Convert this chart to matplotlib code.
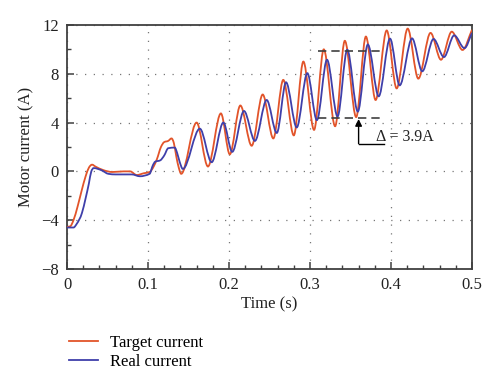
import matplotlib
matplotlib.use('Agg')
import matplotlib.pyplot as plt
import numpy as np
from matplotlib.path import Path
from matplotlib.patches import PathPatch
from matplotlib.lines import Line2D
from matplotlib.ticker import MultipleLocator, FuncFormatter

plt.rcParams['font.family'] = ['Liberation Serif', 'DejaVu Serif']

# ============================================================
# data (time in s, current in A)
# ============================================================
target_t = [0.000, 0.004, 0.008, 0.013, 0.018, 0.023, 0.027, 0.031, 0.035, 0.045,
            0.056, 0.070, 0.078, 0.086, 0.095, 0.102, 0.107, 0.111, 0.116, 0.120,
            0.125, 0.129, 0.132, 0.135, 0.138, 0.141, 0.160, 0.174, 0.190, 0.201,
            0.214, 0.228, 0.2416, 0.2547, 0.267, 0.280, 0.2918, 0.305, 0.317, 0.331,
            0.343, 0.357, 0.369, 0.381, 0.3947, 0.407, 0.4206, 0.4337, 0.4488, 0.4617,
            0.475, 0.4883, 0.500]
target_i = [-4.55, -4.5, -4.0, -2.9, -1.6, -0.4, 0.3, 0.55, 0.4, 0.1,
            -0.05, 0.0, 0.0, -0.3, -0.15, -0.05, 0.4, 1.0, 2.0, 2.4,
            2.5, 2.7, 2.3, 1.2, 0.3, -0.2, 4.0, 0.4, 4.75, 1.4,
            5.4, 2.1, 6.3, 2.7, 7.5, 2.95, 9.0, 3.4, 10.0, 3.7,
            10.7, 4.45, 11.05, 5.85, 11.55, 6.8, 11.7, 7.6, 11.35, 9.15,
            11.45, 9.95, 11.6]

real_t = [0.000, 0.008, 0.012, 0.0185, 0.023, 0.027, 0.030, 0.033, 0.043, 0.051,
          0.060, 0.080, 0.090, 0.102, 0.106, 0.109, 0.115, 0.120, 0.125, 0.133,
          0.136, 0.139, 0.143, 0.164, 0.1786, 0.193, 0.204, 0.2185, 0.232, 0.2465,
          0.259, 0.2704, 0.2836, 0.2967, 0.3085, 0.321, 0.334, 0.346, 0.359, 0.3714,
          0.3848, 0.3988, 0.4107, 0.426, 0.4386, 0.4525, 0.4654, 0.478, 0.4907, 0.500]
real_i = [-4.6, -4.6, -4.3, -3.4, -2.2, -1.0, 0.0, 0.27, 0.08, -0.2,
          -0.25, -0.25, -0.4, -0.2, 0.5, 0.8, 0.9, 1.3, 1.9, 1.95,
          1.5, 0.8, 0.2, 3.5, 0.75, 4.0, 1.6, 4.95, 2.5, 5.85,
          3.15, 7.3, 3.6, 8.05, 4.2, 9.15, 4.5, 9.97, 4.9, 10.4,
          6.15, 10.88, 7.05, 10.9, 8.2, 10.85, 9.37, 11.15, 10.1, 11.35]

# annotation: ripple band
band_t = [0.310, 0.386]
band_top = 9.86
band_low = 4.34
arrow_t = 0.360
arrow_base = 2.27
arrow_end_t = 0.391
delta_label = 'Δ = 3.9A'

c_target = '#E2542A'
c_real = '#3F3FAA'
dark = '#404040'


def smooth_path(x, y):
    # monotone cubic drawing of the read points (flat at peaks/valleys)
    x = np.asarray(x, float)
    y = np.asarray(y, float)
    h = np.diff(x)
    s = np.diff(y) / h
    m = np.zeros_like(y)
    m[0], m[-1] = s[0], s[-1]
    for i in range(1, len(y) - 1):
        if s[i - 1] * s[i] <= 0:
            m[i] = 0.0
        else:
            p = (s[i - 1] * h[i] + s[i] * h[i - 1]) / (h[i - 1] + h[i])
            m[i] = np.sign(s[i]) * min(abs(s[i - 1]), abs(s[i]), 0.5 * abs(p)) * 2
    verts = [(x[0], y[0])]
    codes = [Path.MOVETO]
    for i in range(len(h)):
        d = h[i] / 3
        verts += [(x[i] + d, y[i] + m[i] * d), (x[i + 1] - d, y[i + 1] - m[i + 1] * d),
                  (x[i + 1], y[i + 1])]
        codes += [Path.CURVE4] * 3
    return Path(verts, codes)


# ============================================================
# figure
# ============================================================
fig = plt.figure(figsize=(5.0, 3.84), dpi=100)
ax = fig.add_axes([0.134, 0.2995, 0.810, 0.6355])

ax.add_patch(PathPatch(smooth_path(target_t, target_i), fill=False,
                       edgecolor=c_target, lw=1.3, zorder=3))
ax.add_patch(PathPatch(smooth_path(real_t, real_i), fill=False,
                       edgecolor=c_real, lw=1.3, zorder=3))

# dashed band + arrow
ax.plot(band_t, [band_top, band_top], color=dark, lw=1.2, ls=(0, (5, 3)), zorder=4)
ax.plot(band_t, [band_low, band_low], color=dark, lw=1.2, ls=(0, (5, 3)), zorder=4)
ax.annotate('', xy=(arrow_t, band_low - 0.05), xytext=(arrow_t, arrow_base),
            arrowprops=dict(arrowstyle='-|>', color='black', lw=1.0,
                            mutation_scale=10, shrinkA=0, shrinkB=0))
ax.plot([arrow_t, arrow_end_t], [arrow_base, arrow_base], color='black', lw=1.0)
ax.text(0.3815, 2.5, delta_label, fontsize=11.5, ha='left', va='baseline', color='#222222')

ax.set_xlim(0, 0.5)
ax.set_ylim(-8, 12)
ax.xaxis.set_major_locator(MultipleLocator(0.1))
ax.xaxis.set_minor_locator(MultipleLocator(0.02))
ax.yaxis.set_major_locator(MultipleLocator(4))
ax.yaxis.set_minor_locator(MultipleLocator(2))
ax.xaxis.set_major_formatter(FuncFormatter(lambda v, p: '0' if abs(v) < 1e-9 else f'{v:.1f}'))

ax.tick_params(which='both', direction='in', color=dark, labelsize=12, labelcolor='#222222')
ax.tick_params(which='major', length=5, width=1.1, pad=6)
ax.tick_params(which='minor', length=3, width=1.0)
ax.grid(True, which='major', color='#777777', lw=0.9, ls=(0, (1, 6)))
for s in ax.spines.values():
    s.set_color(dark)
    s.set_linewidth(1.3)

ax.set_xlabel('Time (s)', fontsize=12, color='#222222', labelpad=2)
ax.set_ylabel('Motor current (A)', fontsize=12, color='#222222', labelpad=5)

handles = [Line2D([], [], color=c_target, lw=1.3, label='Target current'),
           Line2D([], [], color=c_real, lw=1.3, label='Real current')]
fig.legend(handles=handles, loc='upper left', bbox_to_anchor=(0.124, 0.145),
           frameon=False, fontsize=12, handlelength=1.75, handletextpad=0.75,
           labelspacing=0.2, borderaxespad=0)

plt.savefig('out.png', dpi=100)
